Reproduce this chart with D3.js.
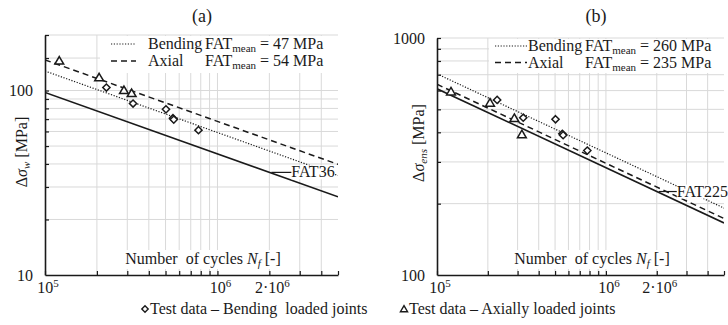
<!DOCTYPE html>
<html>
<head>
<meta charset="utf-8">
<script src="https://cdn.jsdelivr.net/npm/d3@7"></script>
<style>
  body { margin: 0; background: #fff; }
  svg text, svg tspan { font-family: "Liberation Serif", "Times New Roman", Tinos, serif !important; }
</style>
</head>
<body>
<svg id="chart" width="728" height="325" font-family="Liberation Serif"></svg>
<script>
// ---- data ----
const cycleDomain = [1e5, 5e6];
const cycleGrid = [2e5, 3e5, 4e5, 5e5, 6e5, 7e5, 8e5, 9e5, 1e6, 2e6, 3e6, 4e6];
const cycleTickLabels = [
  { v: 1e5, base: "10", sup: "5" },
  { v: 1e6, base: "10", sup: "6" },
  { v: 2e6, base: "2·10", sup: "6" }
];

// test data, axially loaded joints
const cyclesAxial = [1.21e5, 2.06e5, 2.87e5, 3.18e5];
const stressAxialW = [145, 117.7, 100.4, 96.7];
const stressAxialEns = [594, 533, 459, 392];

// test data, bending loaded joints
const cyclesBending = [2.27e5, 3.24e5, 5.03e5, 5.52e5, 5.58e5, 7.76e5];
const stressBendingW = [103.8, 85, 79.1, 70.8, 69.6, 61];
const stressBendingEns = [548, 461, 454, 394, 389, 335];

// FAT classes (stress range at 2e6 cycles, slope m = 3)
const slopeM = 3;
const fatRefCycles = 2e6;
const fatW = { design: 36, bending: 47, axial: 54 };
const fatEns = { design: 225, bending: 260, axial: 235 };

const yTicksW = [20, 30, 40, 50, 60, 70, 80, 90, 100, 150, 200];
const yLabelsW = [10, 100];
const yTicksEns = [200, 300, 400, 500, 600, 700, 800, 900, 1000];
const yLabelsEns = [100, 1000];

// ---- layout ----
const FONT = "Liberation Serif";
const panels = [
  {
    title: "(a)", titleX: 202, left: 45, right: 338, top: 35, bottom: 275,
    yDomain: [10, 200], yTicks: yTicksW, yLabels: yLabelsW,
    fat: fatW, axial: stressAxialW, bending: stressBendingW,
    ySub: "w", yLabelX: 27, yLabelY: 152,
    legendBox: [100, 36, 338, 73], legendSampleX: 111, legendNameX: 148, legendFatX: 205,
    legendRows: [49, 66], legendGap: 12,
    designGap: 22, xLabelX: 203
  },
  {
    title: "(b)", titleX: 596, left: 437, right: 724, top: 38, bottom: 275,
    yDomain: [100, 1000], yTicks: yTicksEns, yLabels: yLabelsEns,
    fat: fatEns, axial: stressAxialEns, bending: stressBendingEns,
    ySub: "ens", yLabelX: 424, yLabelY: 143,
    legendBox: [489, 39, 724, 73], legendSampleX: 495, legendNameX: 528, legendFatX: 585,
    legendRows: [51, 67.5], legendGap: 1,
    designGap: 20, xLabelX: 592
  }
];

const svg = d3.select("#chart");
const gridColor = "#d9d9d9";
const ink = "#1a1a1a";

const lineStyles = {
  design: { dash: null, width: 1.6 },
  axial: { dash: "6,4", width: 1.5 },
  bending: { dash: "1.2,1.6", width: 1.2 }
};

function snLine(fat) {
  return cycleDomain.map(n => [n, fat * Math.pow(fatRefCycles / n, 1 / slopeM)]);
}

function diamond(sel, s) {
  return sel.append("path").attr("d", `M0,${-s}L${s},0L0,${s}L${-s},0Z`);
}
function triangle(sel, s) {
  return sel.append("path").attr("d", `M0,${-s}L${s * 1.05},${s * 0.8}L${-s * 1.05},${s * 0.8}Z`);
}
function label(sel) {
  return sel.append("text").attr("font-family", FONT).style("font-family", '"' + FONT + '"').attr("fill", ink);
}

panels.forEach((p, i) => {
  const g = svg.append("g");
  const x = d3.scaleLog().domain(cycleDomain).range([p.left, p.right]);
  const y = d3.scaleLog().domain(p.yDomain).range([p.bottom, p.top]);

  const clipId = "clip" + i;
  svg.append("clipPath").attr("id", clipId).append("rect")
    .attr("x", p.left).attr("y", p.top).attr("width", p.right - p.left).attr("height", p.bottom - p.top);

  // grid
  g.append("g").selectAll("line").data(cycleGrid).join("line")
    .attr("x1", d => x(d)).attr("x2", d => x(d))
    .attr("y1", p.bottom).attr("y2", p.top)
    .attr("stroke", gridColor).attr("stroke-width", 1);
  g.append("g").selectAll("line").data(p.yTicks).join("line")
    .attr("x1", p.left).attr("x2", p.right)
    .attr("y1", d => y(d)).attr("y2", d => y(d))
    .attr("stroke", gridColor).attr("stroke-width", 1);

  // S-N lines
  const line = d3.line().x(d => x(d[0])).y(d => y(d[1]));
  const lines = g.append("g").attr("clip-path", `url(#${clipId})`);
  ["design", "bending", "axial"].forEach(k => {
    lines.append("path").datum(snLine(p.fat[k])).attr("d", line)
      .attr("fill", "none").attr("stroke", ink)
      .attr("stroke-width", lineStyles[k].width)
      .attr("stroke-dasharray", lineStyles[k].dash);
  });

  // design class label with leader
  const fx = x(fatRefCycles), fy = y(p.fat.design);
  const lbl = g.append("g");
  const lblBg = lbl.append("rect").attr("fill", "#fff");
  const t = label(lbl).attr("x", fx + p.designGap).attr("y", fy + 5)
    .attr("font-size", 16).text("FAT" + p.fat.design);
  const bb = t.node().getBBox();
  lblBg.attr("x", bb.x).attr("y", bb.y + 2).attr("width", bb.width).attr("height", bb.height - 3);
  lbl.append("line").attr("x1", fx + 2).attr("x2", fx + p.designGap).attr("y1", fy).attr("y2", fy)
    .attr("stroke", ink).attr("stroke-width", 1.2);

  // legend (top right, white box)
  const lb = p.legendBox;
  g.append("rect").attr("x", lb[0]).attr("y", lb[1]).attr("width", lb[2] - lb[0]).attr("height", lb[3] - lb[1]).attr("fill", "#fff");
  const legendItems = [
    { key: "bending", name: "Bending", fat: p.fat.bending },
    { key: "axial", name: "Axial", fat: p.fat.axial }
  ];
  legendItems.forEach((it, j) => {
    const by = p.legendRows[j];
    g.append("line").attr("x1", p.legendSampleX).attr("x2", p.legendNameX - p.legendGap)
      .attr("y1", by - 5).attr("y2", by - 5)
      .attr("stroke", ink).attr("stroke-width", lineStyles[it.key].width)
      .attr("stroke-dasharray", lineStyles[it.key].dash);
    label(g).attr("x", p.legendNameX).attr("y", by).attr("font-size", 16).text(it.name);
    const ft = label(g).attr("x", p.legendFatX).attr("y", by).attr("font-size", 16);
    ft.append("tspan").text("FAT");
    ft.append("tspan").attr("font-size", 11).attr("dy", 3).text("mean");
    ft.append("tspan").attr("dy", -3).text(" = " + it.fat + " MPa");
  });

  // x-axis title inside the plot, on a white box
  const xt = g.append("g");
  const xtBg = xt.append("rect").attr("fill", "#fff");
  const xtt = label(xt).attr("x", p.xLabelX).attr("y", 264).attr("text-anchor", "middle").attr("font-size", 16)
    .attr("xml:space", "preserve");
  xtt.append("tspan").text("Number  of cycles ");
  xtt.append("tspan").attr("font-style", "italic").text("N");
  xtt.append("tspan").attr("font-style", "italic").attr("font-size", 11).attr("dy", 3).text("f");
  xtt.append("tspan").attr("dy", -3).text(" [-]");
  const xb = xtt.node().getBBox();
  xtBg.attr("x", xb.x - 2).attr("y", xb.y).attr("width", xb.width + 4).attr("height", xb.height);

  // markers
  const mk = g.append("g").attr("fill", "#fff").attr("stroke", ink).attr("stroke-width", 1.5);
  cyclesBending.forEach((n, j) => {
    diamond(mk.append("g").attr("transform", `translate(${x(n)},${y(p.bending[j])})`), 3.6);
  });
  cyclesAxial.forEach((n, j) => {
    triangle(mk.append("g").attr("transform", `translate(${x(n)},${y(p.axial[j])})`), 4.2);
  });

  // axes (ticks inside)
  const xAxis = d3.axisBottom(x).tickValues(cycleGrid.concat(cycleDomain)).tickSize(-4).tickSizeOuter(0).tickFormat("");
  const ax = g.append("g").attr("transform", `translate(0,${p.bottom})`).call(xAxis);
  const yAxis = d3.axisLeft(y).tickValues(p.yTicks).tickSize(-4).tickSizeOuter(0).tickFormat("");
  const ay = g.append("g").attr("transform", `translate(${p.left},0)`).call(yAxis);
  [ax, ay].forEach(a => {
    a.attr("font-family", null);
    a.select(".domain").attr("stroke", ink).attr("stroke-width", 1.6);
    a.selectAll(".tick line").attr("stroke", ink).attr("stroke-width", 1.2);
  });

  // tick labels
  p.yLabels.forEach(v => {
    label(g).attr("x", p.left - 12).attr("y", y(v) + 5.5)
      .attr("text-anchor", "end").attr("font-size", 16).text(v);
  });
  cycleTickLabels.forEach(d => {
    const tt = label(g).attr("x", x(d.v) + 3).attr("y", p.bottom + 18)
      .attr("text-anchor", "middle").attr("font-size", 16);
    tt.append("tspan").text(d.base);
    tt.append("tspan").attr("font-size", 11).attr("dy", -6).text(d.sup);
  });

  // y-axis title
  const yt = label(g).attr("transform", `translate(${p.yLabelX},${p.yLabelY}) rotate(-90)`)
    .attr("text-anchor", "middle").attr("font-size", 16);
  yt.append("tspan").text("Δ");
  yt.append("tspan").attr("font-style", "italic").text("σ");
  yt.append("tspan").attr("font-style", "italic").attr("font-size", 11).attr("dy", 3).text(p.ySub);
  yt.append("tspan").attr("dy", -3).text(" [MPa]");

  // panel title
  label(g).attr("x", p.titleX).attr("y", 22).attr("text-anchor", "middle").attr("font-size", 18).text(p.title);
});

// bottom legend for the test data
const bottomLegend = [
  { shape: "diamond", text: "Test data – Bending  loaded joints", x: 145 },
  { shape: "triangle", text: "Test data – Axially loaded joints", x: 404 }
];
bottomLegend.forEach(d => {
  const g = svg.append("g").attr("transform", `translate(${d.x},314)`);
  const m = g.append("g").attr("transform", "translate(0,-5)").attr("fill", "#fff").attr("stroke", ink).attr("stroke-width", 1.4);
  if (d.shape === "diamond") diamond(m, 3.2); else triangle(m, 3.4);
  label(g).attr("x", 5).attr("y", 0).attr("font-size", 16)
    .attr("xml:space", "preserve").text(d.text);
});
</script>
</body>
</html>
